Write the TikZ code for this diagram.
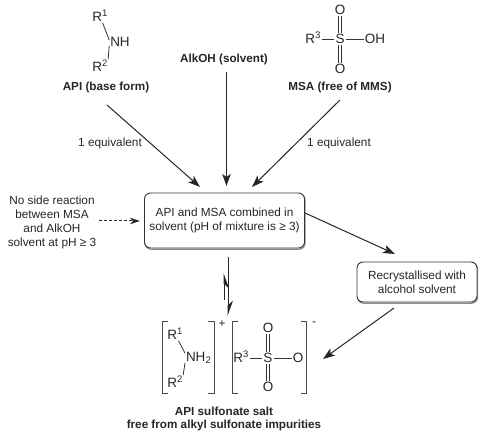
\documentclass[tikz,border=0pt]{standalone}
\usepackage{fontspec}
\setmainfont{Liberation Sans}
\usetikzlibrary{arrows.meta}
\newcommand{\myup}[1]{\raisebox{5pt}{\fontsize{9.5}{10}\selectfont #1}}
\newcommand{\mydn}[1]{\raisebox{-2.5pt}{\fontsize{9.5}{10}\selectfont #1}}
\tikzset{
  x=1pt,y=-1pt,
  txt/.style={inner sep=0pt,font=\fontsize{11.8}{13.7}\selectfont,text=black!85,align=center},
  lbl/.style={txt,font=\fontsize{11.7}{13.7}\selectfont\bfseries},
  atom/.style={inner sep=0.8pt,font=\fontsize{13.5}{14}\selectfont,text=black!85},
  bond/.style={line width=0.8pt,black!80},
  brk/.style={line width=1pt,black!70},
  arr/.style={line width=1pt,black!85,-{Stealth[length=12pt,width=8.5pt,inset=3pt]}},
  rbox/.style={draw=black!80,line width=0.9pt,rounded corners=6pt,fill=white,txt,
    inner sep=0pt,preaction={draw=black!45,line width=1.2pt,transform canvas={xshift=0.6pt,yshift=-1.2pt}}},
}
\begin{document}
\begin{tikzpicture}
\useasboundingbox (0,0) rectangle (480,435);
% boxes
\node[rbox,minimum width=160pt,minimum height=55pt] (mix) at (224.5,220.5)
  {API and MSA combined in\\solvent (pH of mixture is ≥ 3)};
\node[rbox,minimum width=120pt,minimum height=40pt] (rec) at (417,282)
  {Recrystallised with\\alcohol solvent};
% API
\node[atom] (r1) at (100,16) {R\myup{1}};
\node[atom] (nh) at (120,42) {NH};
\node[atom] (r2) at (100,66) {R\myup{2}};
\draw[bond] (r1) -- (nh.170);
\draw[bond] (r2.40) -- (nh.200);
\node[lbl] (api) at (106,87) {API (base form)};
\node[lbl] (alk) at (224,59) {AlkOH (solvent)};
% MSA
\node[atom] (r3) at (313,38) {R\myup{3}};
\node[atom] (s) at (340,39) {S};
\node[atom] (oh) at (375,39) {OH};
\node[atom] (ot) at (340,10) {O};
\node[atom] (ob) at (340,69) {O};
\draw[bond] (r3.east) ++(0,1) -- (s.west);
\draw[bond] (s) -- (oh);
\draw[bond,transform canvas={xshift=-1.7pt}] (ot) -- (s);
\draw[bond,transform canvas={xshift=1.7pt}] (ot) -- (s);
\draw[bond,transform canvas={xshift=-1.7pt}] (s) -- (ob);
\draw[bond,transform canvas={xshift=1.7pt}] (s) -- (ob);
\node[lbl] (msa) at (340,87) {MSA (free of MMS)};
% texts
\node[txt] (eq1) at (110,143) {1 equivalent};
\node[txt] (eq2) at (339,143) {1 equivalent};
\node[txt] (side) at (52,222.5) {No side reaction\\between MSA\\and AlkOH\\solvent at pH ≥ 3};
% coordinates for connector ends
\coordinate (a1) at (107,105); \coordinate (a1e) at (200,187);
\coordinate (a2) at (226.5,72); \coordinate (a2e) at (226.5,186);
\coordinate (a3) at (340,100); \coordinate (a3e) at (252,187);
\coordinate (b1) at (305,213); \coordinate (b1e) at (395,254);
\coordinate (c1) at (394,308); \coordinate (c1e) at (323,359);
\coordinate (d1) at (99,221); \coordinate (d1e) at (140,221);
\coordinate (e1) at (228,257); \coordinate (e1e) at (228,316);
\coordinate (f1) at (224,300); \coordinate (f1e) at (224,273);
\draw[arr] (a1) -- (a1e);
\draw[arr] (a2) -- (a2e);
\draw[arr] (a3) -- (a3e);
\draw[arr] (b1) -- (b1e);
\draw[arr] (c1) -- (c1e);
\draw[line width=1pt,black!85,densely dashed,-{Stealth[length=10pt,width=6.5pt]}] (d1) -- (d1e);
\draw[line width=1pt,black!85,-{Stealth[length=14pt,width=10pt,harpoon]}] (e1) -- (e1e);
\draw[line width=1pt,black!85,-{Stealth[length=14pt,width=10pt,harpoon,swap]}] (f1) -- (f1e);
% salt
\node[atom] (sr1) at (175,334) {R\myup{1}};
\node[atom,anchor=west] (sn) at (185,358) {NH\mydn{2}};
\node[atom] (sr2) at (175,382) {R\myup{2}};
\draw[bond] (sr1) -- (sn.160);
\draw[bond] (sr2.40) -- (sn.200);
\node[atom] (sr3) at (241,357) {R\myup{3}};
\node[atom] (ss) at (268,358) {S};
\node[atom] (so) at (298,358) {O};
\node[atom] (sot) at (268,328) {O};
\node[atom] (sob) at (268,387) {O};
\draw[bond] (sr3.east) ++(0,1) -- (ss.west);
\draw[bond] (ss) -- (so);
\draw[bond,transform canvas={xshift=-1.7pt}] (sot) -- (ss);
\draw[bond,transform canvas={xshift=1.7pt}] (sot) -- (ss);
\draw[bond,transform canvas={xshift=-1.7pt}] (ss) -- (sob);
\draw[bond,transform canvas={xshift=1.7pt}] (ss) -- (sob);
\draw[brk] (168,322) -- (162,322) -- (162,394) -- (168,394);
\draw[brk] (208,322) -- (214,322) -- (214,394) -- (208,394);
\draw[brk] (238,322) -- (232,322) -- (232,394) -- (238,394);
\draw[brk] (301,322) -- (306,322) -- (306,394) -- (301,394);
\node[txt] (plus) at (222,324) {+};
\node[txt] (minus) at (314,324) {-};
\node[lbl] (salt) at (224,411) {API sulfonate salt};
\node[lbl] (free) at (224,425) {free from alkyl sulfonate impurities};
\end{tikzpicture}
\end{document}
